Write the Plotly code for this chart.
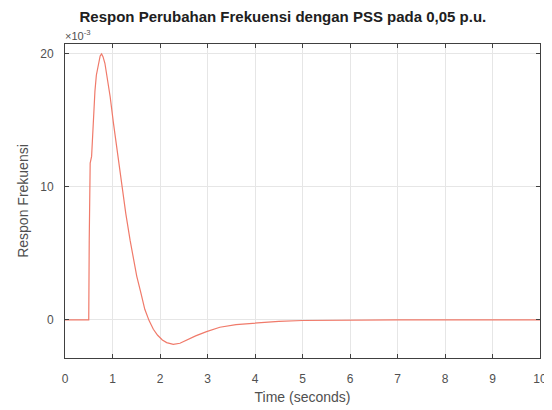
import plotly.graph_objects as go

time_s = [0, 0.5, 0.51, 0.53, 0.56, 0.60, 0.63, 0.66, 0.70, 0.74, 0.77, 0.80,
          0.84, 0.88, 0.95, 1.02, 1.10, 1.19, 1.28, 1.37, 1.45, 1.51, 1.60,
          1.68, 1.77, 1.86, 1.95, 2.05, 2.14, 2.28, 2.42, 2.56, 2.75, 2.98,
          3.26, 3.60, 4.00, 4.50, 5.00, 6.00, 7.00, 8.00, 9.00, 10.00]
respon_e3 = [0, 0, 6.0, 11.8, 12.3, 15.5, 17.2, 18.4, 19.3, 19.85, 20.0, 19.8,
             19.3, 18.5, 16.8, 14.8, 12.6, 10.2, 8.0, 6.0, 4.4, 3.3, 2.0,
             0.8, -0.05, -0.7, -1.15, -1.5, -1.7, -1.83, -1.75, -1.5, -1.2, -0.88,
             -0.55, -0.35, -0.22, -0.1, -0.04, 0, 0, 0, 0, 0]

x_ticks = list(range(0, 11))
y_ticks = [0, 10, 20]

fig = go.Figure()
fig.add_trace(go.Scatter(x=time_s, y=respon_e3, mode="lines",
                         line=dict(color="#f07a6a", width=1.2),
                         showlegend=False))

axis_common = dict(showline=True, linecolor="#404040", linewidth=1, mirror="ticks",
                   ticks="inside", ticklen=4, tickcolor="#404040",
                   showgrid=True, gridcolor="#e6e6e6", gridwidth=1, automargin=False,
                   zeroline=False, tickfont=dict(family="Liberation Sans", size=12, color="#505050"))

fig.update_layout(
    width=552, height=410,
    margin=dict(l=57, r=20, t=36, b=60),
    paper_bgcolor="white", plot_bgcolor="white",
    title=dict(text="<b>Respon Perubahan Frekuensi dengan PSS pada 0,05 p.u.</b>",
               x=0.498, xanchor="center", y=0.979, yanchor="middle",
               font=dict(family="Liberation Sans", size=15, color="#202020")),
    xaxis=dict(range=[0, 10], tickvals=x_ticks, ticklabelstandoff=10,
               title=dict(text="Time (seconds)", standoff=6,
                          font=dict(family="Liberation Sans", size=14, color="#505050")),
               **axis_common),
    yaxis=dict(range=[-2.86, 20.75], tickvals=y_ticks, ticklabelstandoff=8,
               title=dict(text="Respon Frekuensi", standoff=8,
                          font=dict(family="Liberation Sans", size=14, color="#505050")),
               **axis_common),
    annotations=[dict(text="×10<sup>-3</sup>", xref="paper", yref="paper",
                      x=-0.005, y=1.0, xanchor="left", yanchor="bottom", showarrow=False,
                      font=dict(family="Liberation Sans", size=11, color="#505050"))],
)

fig.write_html("out.html")
